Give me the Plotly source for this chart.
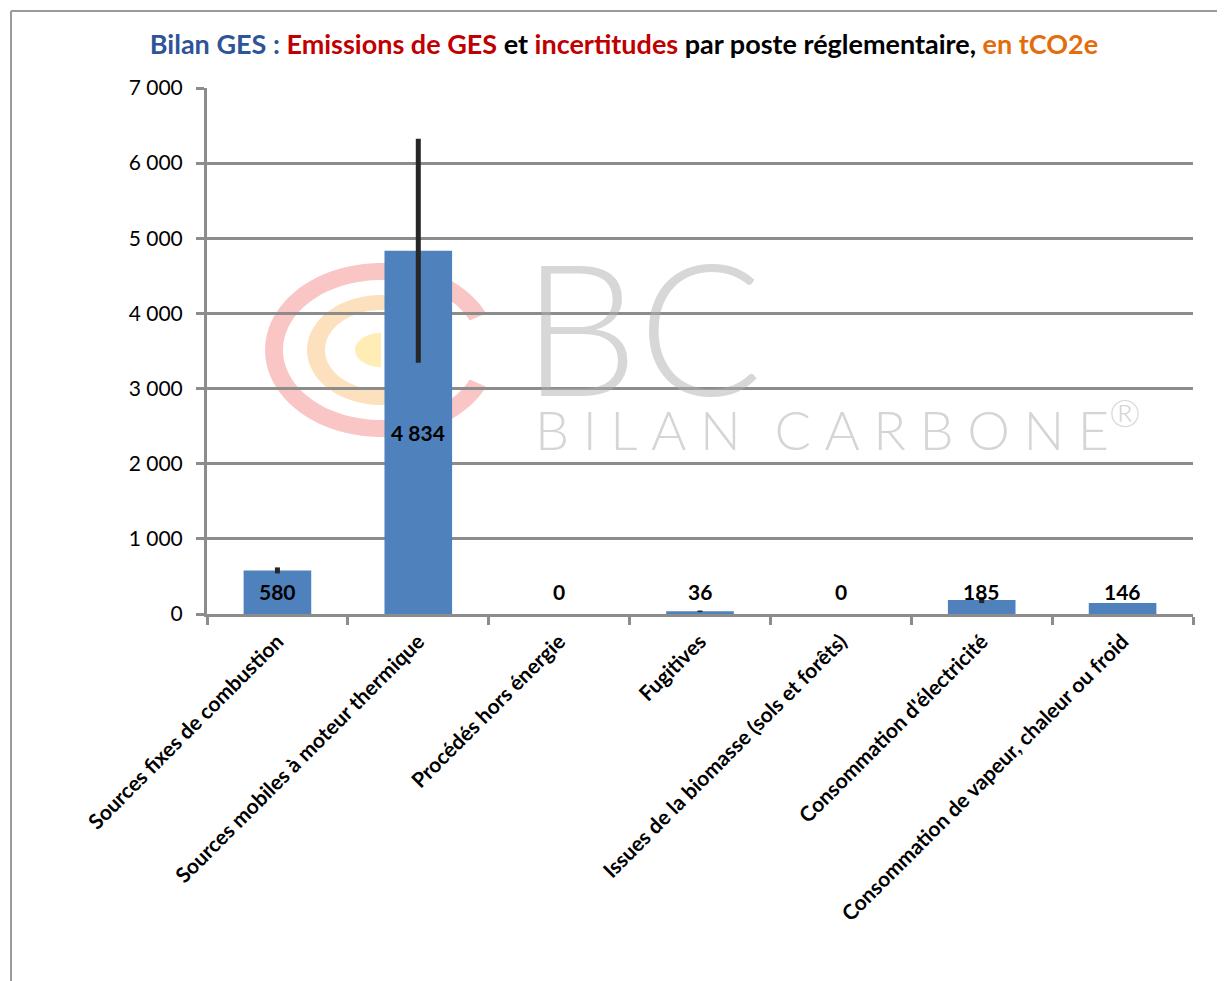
import numpy as np
import plotly.graph_objects as go

categories = [
    "Sources fixes de combustion",
    "Sources mobiles à moteur thermique",
    "Procédés hors énergie",
    "Fugitives",
    "Issues de la biomasse (sols et forêts)",
    "Consommation d'électricité",
    "Consommation de vapeur, chaleur ou froid",
]
emissions = [580, 4834, 0, 36, 0, 185, 146]
uncertainty = [40, 1490, 0, 10, 0, 40, 0]
label_texts = ["580", "4 834", "0", "36", "0", "185", "146"]
y_ticks = [0, 1000, 2000, 3000, 4000, 5000, 6000, 7000]

FONT = "Lato"
GRID = "#8c8c8c"
OFF = 8  # page body offset

fig = go.Figure()
fig.add_trace(go.Bar(
    x=categories, y=emissions,
    marker=dict(color="#4F81BD", line=dict(width=0)),
    width=0.48,
    error_y=dict(type="data", array=uncertainty, visible=True,
                 color="#262626", thickness=5, width=0),
    hoverinfo="x+y",
))

# data labels
for c, v, t in zip(categories, emissions, label_texts):
    fig.add_annotation(x=c, y=max(v / 2, 300), text=f"<b>{t}</b>", showarrow=False,
                       font=dict(family=FONT, size=21, color="black"),
                       xanchor="center", yanchor="middle")

# ---- watermark (decorative) ----
L, T, R, B = 207, 88, 1193, 614   # plot area in page pixels
def px(xp): return (xp - L) / (R - L)
def py(yp): return (B - yp) / (B - T)

def ring_path(cx, cy, rx_o, ry_o, rx_i, ry_i, a0, a1, n=80):
    ang = np.radians(np.linspace(a0, a1, n))
    outer = [(cx + rx_o * np.cos(a), cy - ry_o * np.sin(a)) for a in ang]
    inner = [(cx + rx_i * np.cos(a), cy - ry_i * np.sin(a)) for a in ang[::-1]]
    pts = outer + inner
    return "M " + " L ".join(f"{px(x):.5f},{py(y):.5f}" for x, y in pts) + " Z"

cx, cy = 381, 350
fig.add_shape(type="path", xref="paper", yref="paper", layer="below",
              path=ring_path(cx, cy, 116, 87, 98, 70, 25, 335),
              fillcolor="rgba(240,90,90,0.35)", line=dict(width=0))
fig.add_shape(type="path", xref="paper", yref="paper", layer="below",
              path=ring_path(cx, cy, 74, 55, 56, 40, 70, 290),
              fillcolor="rgba(250,170,70,0.35)", line=dict(width=0))
fig.add_shape(type="path", xref="paper", yref="paper", layer="below",
              path=ring_path(cx, cy, 26, 17, 0.1, 0.1, 90, 270),
              fillcolor="rgba(255,215,90,0.45)", line=dict(width=0))
fig.add_annotation(xref="paper", yref="paper", x=px(642), y=py(324), text="BC",
                   showarrow=False, xanchor="center", yanchor="middle",
                   font=dict(family=FONT, size=184, color="rgba(175,175,175,0.5)", weight=300))
sp = "\u2009\u200a\u200a"
word1 = sp.join("BILAN")
word2 = sp.join("CARBONE")
fig.add_annotation(xref="paper", yref="paper", x=px(533), y=py(426),
                   text=word1 + "\u2002\u2009" + word2 + "<sup>®</sup>",
                   showarrow=False, xanchor="left", yanchor="middle",
                   font=dict(family=FONT, size=54, color="rgba(185,185,185,0.6)", weight=300))

# outer frame (top and left edges)
fig.add_shape(type="line", xref="paper", yref="paper", x0=px(11), x1=px(1226), y0=py(11), y1=py(11),
              line=dict(color="#9a9a9a", width=2))
fig.add_shape(type="line", xref="paper", yref="paper", x0=px(11), x1=px(11), y0=py(11), y1=py(982),
              line=dict(color="#9a9a9a", width=2))

title = ("<b><span style='color:#2E5597'>Bilan GES :</span> "
         "<span style='color:#C00000'>Emissions de GES</span> "
         "<span style='color:#000000'>et</span> "
         "<span style='color:#C00000'>incertitudes</span> "
         "<span style='color:#000000'>par poste réglementaire,</span> "
         "<span style='color:#E46C0A'>en tCO2e</span></b>")

W, H = 1225 - OFF, 981 - OFF
fig.update_layout(
    width=W, height=H,
    margin=dict(l=L - OFF, r=W - (R - OFF), t=T - OFF, b=H - (B - OFF)),
    paper_bgcolor="white", plot_bgcolor="rgba(0,0,0,0)",
    separators=", ",
    showlegend=False,
    bargap=0.52,
    title=dict(text=title, x=(624 - OFF) / W, xanchor="center", y=1 - (45 - OFF) / H, yanchor="middle",
               xref="container", yref="container",
               font=dict(family=FONT, size=27)),
    font=dict(family=FONT, color="black"),
)
fig.update_xaxes(
    type="category", tickangle=-45, tickson="boundaries",
    ticks="outside", ticklen=8, tickwidth=3, tickcolor=GRID,
    showline=True, linecolor=GRID, linewidth=3,
    showgrid=False, ticklabelstandoff=4,
    tickfont=dict(family=FONT, size=21, color="black", weight="bold"),
)
fig.update_yaxes(
    range=[0, 7000], tickvals=y_ticks, tickformat=",d",
    ticks="outside", ticklen=8, tickwidth=3, tickcolor=GRID,
    showline=True, linecolor=GRID, linewidth=3,
    showgrid=True, gridcolor=GRID, gridwidth=3,
    zeroline=False, ticklabelstandoff=9,
    tickfont=dict(family=FONT, size=21, color="black"),
)

fig.write_html("out.html")
